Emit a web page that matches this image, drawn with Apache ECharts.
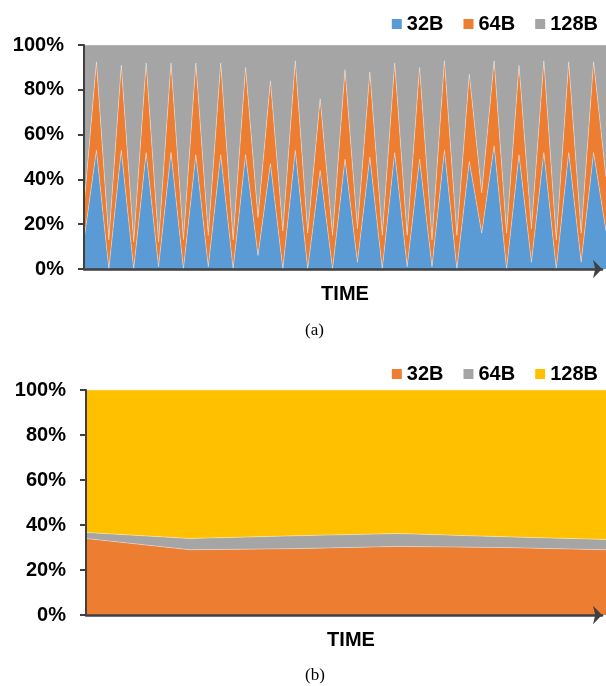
<!DOCTYPE html>
<html>
<head>
<meta charset="utf-8">
<script src="https://cdn.jsdelivr.net/npm/echarts@6/dist/echarts.min.js"></script>
<style>
html,body{margin:0;padding:0;background:#fff;}
#c{width:606px;height:686px;}
</style>
</head>
<body>
<div id="c"></div>
<script>
// ---- Data: chart (a) ----
var timeA = [];
for (var i = 1; i <= 43; i++) timeA.push('t' + i);
var a32B  = [13,53,0,53,0,52,1,52,0,51,1,51,0,51,6,47,0,53,0,44,0,49,3,50,0,52,1,49,1,53,0,48,16,55,0,51,3,52,0,52,3,52,17];
var a64B  = [15,39.5,13,38,12,40,11,40,13,41,14,41,13,39,17,37,17,40,16,32,15,40,15,38,15,40,14,41,12,40,15,39,18,38,16,40,15,41,13,40.5,13,40.5,24];
var a128B = [72,7.5,87,9,88,8,88,8,87,8,85,8,87,10,77,16,83,7,84,24,85,11,82,12,85,8,85,10,87,7,85,13,66,7,84,9,82,7,87,7.5,84,7.5,59];

// ---- Data: chart (b) ----
var timeB = ['t1','t2','t3','t4','t5','t6'];
var b32B  = [34, 29, 29.5, 30.5, 30, 29];
var b64B  = [2.7, 5, 5.7, 5.7, 4.8, 4.6];
var b128B = [63.3, 66, 64.8, 63.8, 65.2, 66.4];

var yTicks = [0, 20, 40, 60, 80, 100];

var FONT = "'Liberation Sans', Arial, sans-serif";
var AXIS = '#404040';

function areaSeries(name, data, color, xi, yi) {
  return {
    name: name, type: 'line', stack: 's' + xi, data: data,
    xAxisIndex: xi, yAxisIndex: yi,
    showSymbol: false, symbol: 'none',
    itemStyle: {color: color},
    lineStyle: {width: 0.8, color: 'rgba(255,255,255,0.45)'},
    areaStyle: {color: color, opacity: 1},
    emphasis: {disabled: true}
  };
}

function yAxisDef(gi) {
  return {
    type: 'value', gridIndex: gi, min: 0, max: 100, interval: 20, z: 10,
    axisLine: {show: true, lineStyle: {color: AXIS, width: 2}},
    axisTick: {show: true, inside: false, length: 6, lineStyle: {color: AXIS, width: 2}},
    axisLabel: {
      margin: 20, color: '#000', fontFamily: FONT, fontWeight: 'bold', fontSize: 20,
      formatter: function (v) { return yTicks.indexOf(v) >= 0 ? v + '%' : ''; }
    },
    splitLine: {show: false}
  };
}

function arrowX(gi) {
  return {
    type: 'category', gridIndex: gi, data: [''], boundaryGap: false, z: 10,
    axisLine: {show: true, symbol: ['none', 'arrow'], symbolSize: [14, 9],
      lineStyle: {color: AXIS, width: 2.5}},
    axisTick: {show: false}, axisLabel: {show: false}
  };
}

var chart = echarts.init(document.getElementById('c'), null, {renderer: 'canvas'});
chart.setOption({
  animation: false,
  backgroundColor: '#fff',
  grid: [
    {left: 84, right: -7.2, top: 45, height: 224},
    {left: 84, right: 4, top: 45, height: 224},
    {left: 86, right: 0, top: 390, height: 225},
    {left: 86, right: 4, top: 390, height: 225}
  ],
  legend: [
    {
      right: 3, top: 9, itemWidth: 10, itemHeight: 10, itemGap: 20, icon: 'rect',
      textStyle: {color: '#000', fontFamily: FONT, fontWeight: 'bold', fontSize: 20},
      data: ['32B', '64B', '128B']
    },
    {
      right: 3, top: 359, itemWidth: 10, itemHeight: 10, itemGap: 20, icon: 'rect',
      textStyle: {color: '#000', fontFamily: FONT, fontWeight: 'bold', fontSize: 20},
      data: [{name: '32B '}, {name: '64B '}, {name: '128B '}],
      formatter: function (n) { return n.trim(); }
    }
  ],
  xAxis: [
    {
      type: 'category', gridIndex: 0, data: timeA, boundaryGap: false,
      axisLine: {show: false}, axisTick: {show: false}, axisLabel: {show: false},
      name: 'TIME', nameLocation: 'middle', nameGap: 15,
      nameTextStyle: {color: '#000', fontFamily: FONT, fontWeight: 'bold', fontSize: 20}
    },
    arrowX(1),
    {
      type: 'category', gridIndex: 2, data: timeB, boundaryGap: false,
      axisLine: {show: false}, axisTick: {show: false}, axisLabel: {show: false},
      name: 'TIME', nameLocation: 'middle', nameGap: 15,
      nameTextStyle: {color: '#000', fontFamily: FONT, fontWeight: 'bold', fontSize: 20, padding: [0, 0, 0, 10]}
    },
    arrowX(3)
  ],
  yAxis: [
    yAxisDef(0),
    {type: 'value', gridIndex: 1, show: false, min: 0, max: 100},
    yAxisDef(2),
    {type: 'value', gridIndex: 3, show: false, min: 0, max: 100}
  ],
  series: [
    areaSeries('32B', a32B, '#5B9BD5', 0, 0),
    areaSeries('64B', a64B, '#ED7D31', 0, 0),
    areaSeries('128B', a128B, '#A5A5A5', 0, 0),
    areaSeries('32B ', b32B, '#ED7D31', 2, 2),
    areaSeries('64B ', b64B, '#A5A5A5', 2, 2),
    areaSeries('128B ', b128B, '#FFC000', 2, 2)
  ],
  graphic: [
    {type: 'text', left: 305, top: 322,
      style: {text: '(a)', fontFamily: "'Liberation Serif', 'Times New Roman', serif", fontSize: 17, fill: '#000'}},
    {type: 'text', left: 305, top: 667,
      style: {text: '(b)', fontFamily: "'Liberation Serif', 'Times New Roman', serif", fontSize: 17, fill: '#000'}}
  ]
});
</script>
</body>
</html>
